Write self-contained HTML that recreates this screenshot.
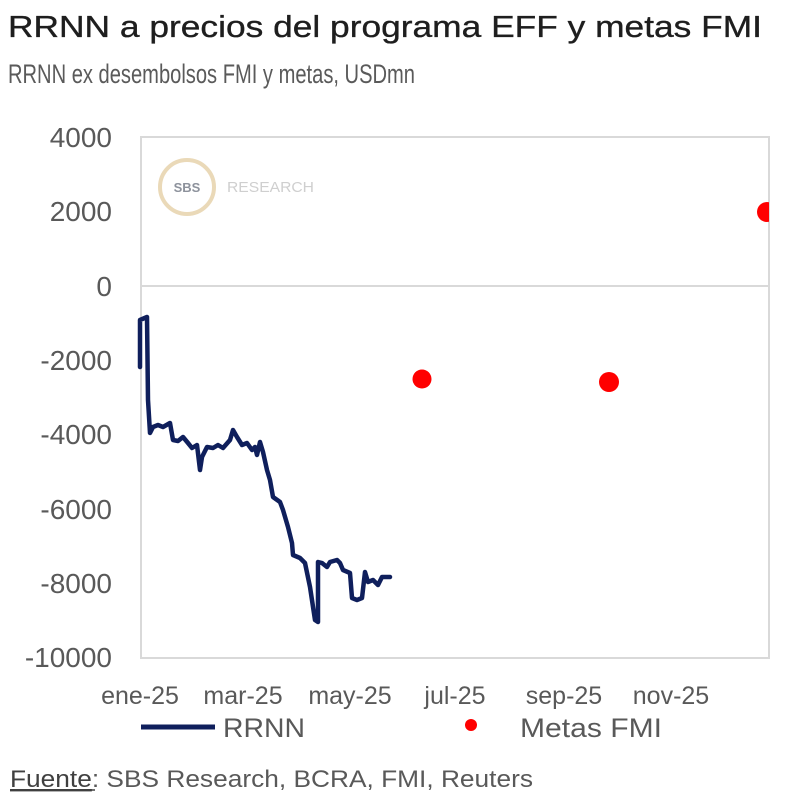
<!DOCTYPE html>
<html><head><meta charset="utf-8"><style>
html,body{margin:0;padding:0;background:#fff;}
svg{display:block;}
text{font-family:"Liberation Sans",Arial,sans-serif;}
</style></head><body>
<svg width="800" height="808" viewBox="0 0 800 808" xmlns="http://www.w3.org/2000/svg">
<rect width="800" height="808" fill="#fff"/>
<text x="8" y="37" font-size="31" fill="#1e1e1e" stroke="#1e1e1e" stroke-width="0.35" textLength="754" lengthAdjust="spacingAndGlyphs">RRNN a precios del programa EFF y metas FMI</text>
<text x="8" y="83" font-size="27" fill="#5a5a5a" textLength="407" lengthAdjust="spacingAndGlyphs">RRNN ex desembolsos FMI y metas, USDmn</text>

<!-- plot frame -->
<rect x="141" y="137" width="628" height="521" fill="none" stroke="#d9d9d9" stroke-width="2"/>
<line x1="141" y1="286" x2="769" y2="286" stroke="#d9d9d9" stroke-width="2"/>

<!-- logo -->
<circle cx="187" cy="187" r="27" fill="none" stroke="#ead9b8" stroke-width="4"/>
<text x="187" y="192" font-size="13" font-weight="bold" fill="#8d929c" text-anchor="middle">SBS</text>
<text x="227" y="192" font-size="15" fill="#cfcfcf" textLength="87" lengthAdjust="spacingAndGlyphs">RESEARCH</text>

<!-- y labels -->
<g font-size="28" fill="#595959" text-anchor="end">
<text x="112" y="147">4000</text>
<text x="112" y="221">2000</text>
<text x="112" y="296">0</text>
<text x="112" y="370">-2000</text>
<text x="112" y="444">-4000</text>
<text x="112" y="519">-6000</text>
<text x="112" y="593">-8000</text>
<text x="112" y="667">-10000</text>
</g>

<!-- x labels -->
<g font-size="25" fill="#595959" text-anchor="middle">
<text x="140" y="704">ene-25</text>
<text x="243" y="704">mar-25</text>
<text x="350" y="704">may-25</text>
<text x="455" y="704">jul-25</text>
<text x="564" y="704">sep-25</text>
<text x="671" y="704">nov-25</text>
</g>

<!-- RRNN line -->
<polyline fill="none" stroke="#0f1f5c" stroke-width="4.5" stroke-linejoin="round" stroke-linecap="round" points="
140,367 140,320 147,317 148,400 150,433 153,427 158,425 163,427 170,423 173,440 178,441 183,437 188,443 192,448 197,445 200,470 202,457 207,447 213,448 218,445 223,448 230,440 233,430 237,437 242,445 247,443 252,450 255,447 257,455 260,442 263,452 267,470 270,480 273,497 280,502 283,510 288,527 292,543 293,555 300,558 305,563 310,587 315,620 318,622 318,562 322,563 327,567 330,562 337,560 340,563 343,570 350,573 352,598 357,600 362,598 365,572 368,582 373,580 378,585 382,577 390,577"/>

<!-- Metas FMI -->
<defs><clipPath id="pc"><rect x="141" y="137" width="628" height="521"/></clipPath></defs>
<g fill="#ff0000" clip-path="url(#pc)">
<circle cx="422" cy="379" r="9.5"/>
<circle cx="609" cy="382" r="10"/>
<circle cx="767" cy="212" r="10"/>
</g>

<!-- legend -->
<line x1="141" y1="727" x2="215" y2="727" stroke="#0f1f5c" stroke-width="5"/>
<text x="223" y="737" font-size="27" fill="#595959" textLength="82" lengthAdjust="spacingAndGlyphs">RRNN</text>
<circle cx="471" cy="725" r="6" fill="#ff0000"/>
<text x="520" y="737" font-size="27" fill="#595959" textLength="142" lengthAdjust="spacingAndGlyphs">Metas FMI</text>

<!-- source -->
<text x="10" y="787" font-size="24" fill="#595959" textLength="523" lengthAdjust="spacingAndGlyphs"><tspan fill="#404040" text-decoration="underline">Fuente</tspan>: SBS Research, BCRA, FMI, Reuters</text>
<line x1="10" y1="790" x2="95" y2="790" stroke="#404040" stroke-width="1.5"/>
</svg>
</body></html>
